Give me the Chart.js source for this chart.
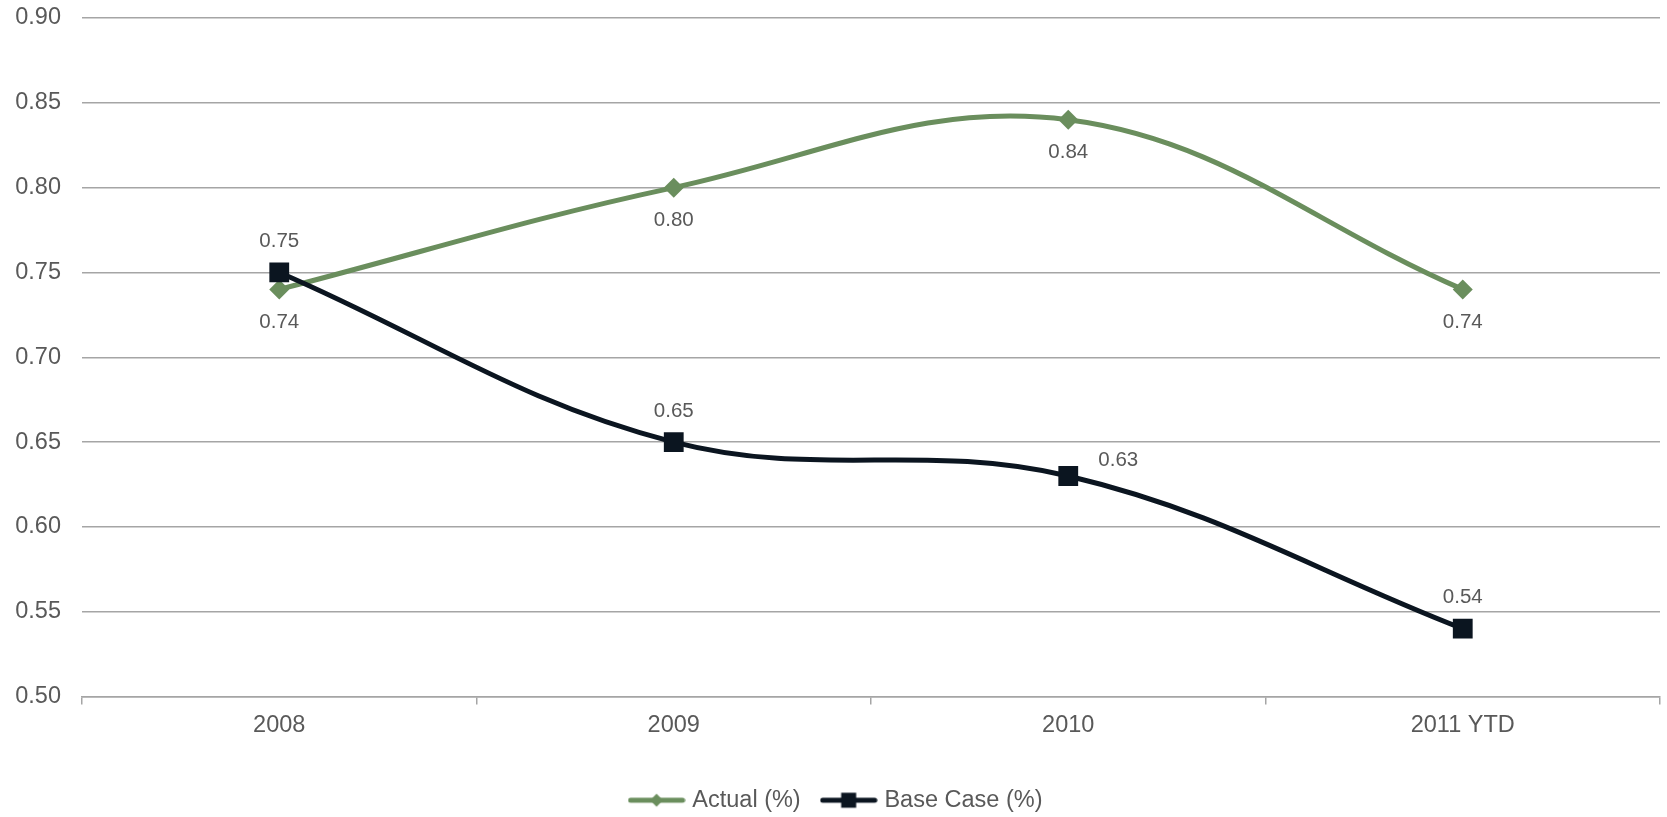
<!DOCTYPE html>
<html>
<head>
<meta charset="utf-8">
<script src="https://cdn.jsdelivr.net/npm/chart.js@4.4.0/dist/chart.umd.min.js"></script>
<style>
  html, body { margin: 0; padding: 0; background: #fff; }
  #wrap { width: 1667px; height: 817px; }
</style>
</head>
<body>
<div id="wrap"><canvas id="ratioChart" width="1667" height="817"></canvas></div>
<script>
// Actual vs base case ratio, 2008 - 2011 YTD

const years = ["2008", "2009", "2010", "2011 YTD"];
const actualPct = [0.74, 0.80, 0.84, 0.74];
const baseCasePct = [0.75, 0.65, 0.63, 0.54];
const yTicks = [0.50, 0.55, 0.60, 0.65, 0.70, 0.75, 0.80, 0.85, 0.90];

const GREEN = '#6a8e5d';
const NAVY = '#0b1520';
const TEXT = '#595959';
const FONT = '"Liberation Sans", Arial, sans-serif';

// legend swatch: short line with the marker in the middle
function legendSwatch(color, marker) {
  const c = document.createElement('canvas');
  c.width = 58;
  c.height = 22;
  const g = c.getContext('2d');
  g.strokeStyle = color;
  g.lineWidth = 5;
  g.lineCap = 'round';
  g.beginPath();
  g.moveTo(3, 11);
  g.lineTo(55, 11);
  g.stroke();
  g.fillStyle = color;
  if (marker === 'diamond') {
    g.beginPath();
    g.moveTo(29, 4.5); g.lineTo(35.5, 11); g.lineTo(29, 17.5); g.lineTo(22.5, 11);
    g.closePath();
    g.fill();
  } else {
    g.fillRect(21.5, 3.5, 15, 15);
  }
  return c;
}

const swatches = [legendSwatch(GREEN, 'diamond'), legendSwatch(NAVY, 'square')];

// value labels next to each point
const valueLabels = {
  id: 'valueLabels',
  afterDatasetsDraw(chart) {
    const ctx = chart.ctx;
    ctx.save();
    ctx.font = '20.5px ' + FONT;
    ctx.fillStyle = TEXT;
    ctx.textAlign = 'center';
    ctx.textBaseline = 'middle';
    chart.data.datasets.forEach((ds, i) => {
      const meta = chart.getDatasetMeta(i);
      meta.data.forEach((pt, j) => {
        let dx = 0, dy = 33;
        if (i === 1) {
          dy = -31;
          if (j === 2) { dx = 50; dy = -16; }
        }
        ctx.fillText(ds.data[j].toFixed(2), pt.x + dx, pt.y + dy);
      });
    });
    ctx.restore();
  }
};

new Chart(document.getElementById('ratioChart'), {
  type: 'line',
  data: {
    labels: years,
    datasets: [
      {
        label: 'Actual (%)',
        data: actualPct,
        borderColor: GREEN,
        backgroundColor: GREEN,
        borderWidth: 5,
        tension: 0.38,
        pointStyle: 'rectRot',
        pointRadius: 10,
        pointBorderWidth: 0,
        order: 1
      },
      {
        label: 'Base Case (%)',
        data: baseCasePct,
        borderColor: NAVY,
        backgroundColor: NAVY,
        borderWidth: 5,
        tension: 0.38,
        pointStyle: 'rect',
        pointRadius: 14,
        pointBorderWidth: 0,
        order: 0
      }
    ]
  },
  options: {
    responsive: false,
    animation: false,
    layout: { autoPadding: false, padding: { left: 15, right: 7, top: 0, bottom: -5 } },
    plugins: {
      tooltip: { enabled: false },
      legend: {
        position: 'bottom',
        labels: {
          usePointStyle: true,
          pointStyleWidth: 48,
          boxWidth: 48,
          boxHeight: 20,
          padding: 24,
          color: TEXT,
          font: { family: FONT, size: 23.5 },
          sort: (a, b) => a.datasetIndex - b.datasetIndex,
          generateLabels(chart) {
            return chart.data.datasets.map((ds, i) => ({
              text: ds.label,
              datasetIndex: i,
              pointStyle: swatches[i],
              fillStyle: ds.borderColor,
              strokeStyle: ds.borderColor,
              lineWidth: 0,
              fontColor: TEXT,
              hidden: false
            }));
          }
        }
      }
    },
    scales: {
      x: {
        offset: true,
        afterFit(axis) {
          axis.height = 68;
          axis.paddingLeft = 0;
          axis.paddingRight = 0;
        },
        grid: {
          offset: true,
          drawOnChartArea: false,
          drawTicks: true,
          tickLength: 8,
          color: '#a5a5a5',
          lineWidth: 1.5
        },
        border: { color: '#a5a5a5', width: 1.5 },
        ticks: { color: TEXT, font: { family: FONT, size: 23.5 }, padding: 7 }
      },
      y: {
        min: 0.5,
        max: 0.9,
        afterFit(axis) {
          axis.width = 67;
          axis.paddingTop = 18;
          axis.paddingBottom = 0;
        },
        afterBuildTicks(axis) {
          axis.ticks = yTicks.map(v => ({ value: v }));
        },
        grid: { color: '#a5a5a5', lineWidth: 1.5, drawTicks: false },
        border: { display: false },
        ticks: {
          color: TEXT,
          font: { family: FONT, size: 23.5 },
          padding: 21,
          callback: v => Number(v).toFixed(2)
        }
      }
    }
  },
  plugins: [valueLabels]
});
</script>
</body>
</html>
